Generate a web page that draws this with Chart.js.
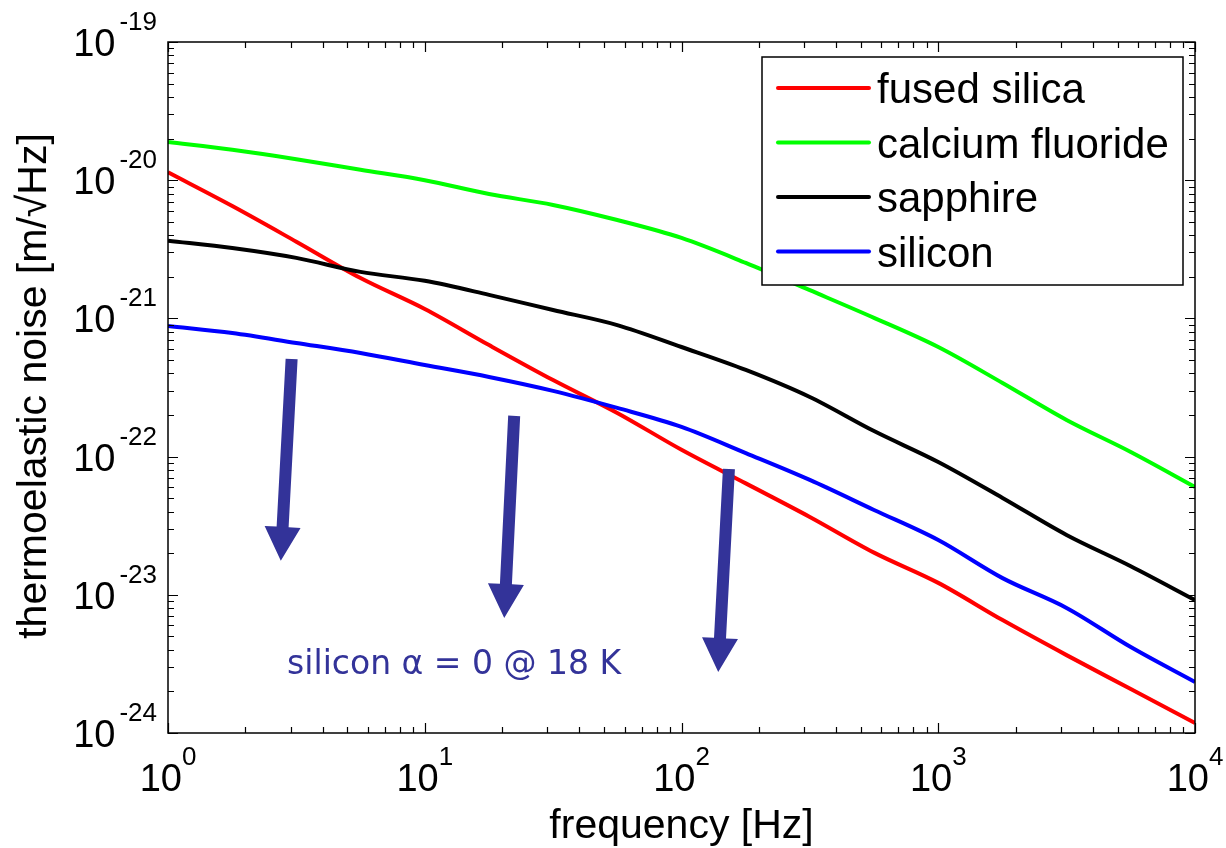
<!DOCTYPE html>
<html>
<head>
<meta charset="utf-8">
<script src="https://cdn.jsdelivr.net/npm/chart.js@4.4.1/dist/chart.umd.min.js"></script>
<style>
  html, body { margin: 0; padding: 0; background: #ffffff; }
  canvas { display: block; }
</style>
</head>
<body>
<canvas id="noiseChart" width="1226" height="848"></canvas>
<script>
// Frequency grid [Hz]
const frequencies = [1, 1.78, 3.16, 5.62, 10, 17.8, 31.6, 56.2, 100, 178, 316, 562, 1000, 1780, 3160, 5620, 10000];

// Thermoelastic noise amplitude spectral density [m/sqrt(Hz)]
const fusedSilica = [1.14e-20, 6.50e-21, 3.59e-21, 1.96e-21, 1.17e-21, 6.41e-22, 3.58e-22, 2.07e-22, 1.12e-22,
                     6.40e-23, 3.66e-23, 2.02e-23, 1.22e-23, 6.56e-24, 3.66e-24, 2.08e-24, 1.18e-24];
const calciumFluoride = [1.89e-20, 1.66e-20, 1.42e-20, 1.19e-20, 1.00e-20, 7.94e-21, 6.62e-21, 5.15e-21, 3.82e-21,
                         2.52e-21, 1.60e-21, 1.01e-21, 6.21e-22, 3.41e-22, 1.84e-22, 1.08e-22, 6.03e-23];
const sapphire = [3.65e-21, 3.23e-21, 2.74e-21, 2.17e-21, 1.87e-21, 1.48e-21, 1.15e-21, 8.95e-22, 6.21e-22,
                  4.24e-22, 2.70e-22, 1.53e-22, 9.14e-23, 5.02e-23, 2.71e-23, 1.61e-23, 9.16e-24];
const silicon = [8.81e-22, 7.83e-22, 6.64e-22, 5.62e-22, 4.60e-22, 3.77e-22, 2.99e-22, 2.25e-22, 1.64e-22,
                 1.06e-22, 6.78e-23, 4.11e-23, 2.49e-23, 1.32e-23, 8.04e-24, 4.19e-24, 2.34e-24];

const seriesNames = ['fused silica', 'calcium fluoride', 'sapphire', 'silicon'];
const seriesValues = [fusedSilica, calciumFluoride, sapphire, silicon];
const seriesColors = ['#ff0000', '#00ff00', '#000000', '#0000ff'];

// Decade tick exponents
const xTickExponents = [0, 1, 2, 3, 4];
const yTickExponents = [-19, -20, -21, -22, -23, -24];

// Annotation: arrows (tail -> tip, in data units) and note
const arrowTails = [[3.03, 5.08e-22], [22.3, 1.97e-22], [153, 8.13e-23]];
const arrowTips  = [[2.75, 1.76e-23], [20.4, 6.79e-24], [139, 2.76e-24]];
const noteText = 'silicon \u03b1 = 0 @ 18 K';
const noteAnchor = [2.91, 2.67e-24];

const xTitle = 'frequency [Hz]';
const yTitle = 'thermoelastic noise [m/\u221aHz]';

const FONT = '"Liberation Sans", Arial, Helvetica, sans-serif';
const NOTE_COLOR = '#333399';

const datasets = seriesNames.map((name, i) => ({
  label: name,
  data: frequencies.map((f, k) => ({ x: f, y: seriesValues[i][k] })),
  borderColor: seriesColors[i],
  backgroundColor: seriesColors[i],
  borderWidth: 4,
  pointRadius: 0,
  cubicInterpolationMode: 'monotone',
  fill: false,
  order: seriesNames.length - i
}));

// Box, inward ticks, decade labels, titles, legend and annotations
const decorations = {
  id: 'decorations',
  afterDatasetsDraw(chart) {
    const ctx = chart.ctx;
    const xs = chart.scales.x, ys = chart.scales.y;
    const a = chart.chartArea;
    ctx.save();

    // arrows
    ctx.fillStyle = NOTE_COLOR;
    arrowTails.forEach((t, i) => {
      const x0 = xs.getPixelForValue(t[0]), y0 = ys.getPixelForValue(t[1]);
      const x1 = xs.getPixelForValue(arrowTips[i][0]), y1 = ys.getPixelForValue(arrowTips[i][1]);
      const len = Math.hypot(x1 - x0, y1 - y0);
      const dx = (x1 - x0) / len, dy = (y1 - y0) / len;
      const nx = -dy, ny = dx;
      const headLen = 34, headHalf = 18, shaftHalf = 6;
      const bx = x1 - dx * headLen, by = y1 - dy * headLen;
      ctx.beginPath();
      ctx.moveTo(x0 + nx * shaftHalf, y0 + ny * shaftHalf);
      ctx.lineTo(bx + nx * shaftHalf, by + ny * shaftHalf);
      ctx.lineTo(bx + nx * headHalf, by + ny * headHalf);
      ctx.lineTo(x1, y1);
      ctx.lineTo(bx - nx * headHalf, by - ny * headHalf);
      ctx.lineTo(bx - nx * shaftHalf, by - ny * shaftHalf);
      ctx.lineTo(x0 - nx * shaftHalf, y0 - ny * shaftHalf);
      ctx.closePath();
      ctx.fill();
    });

    // note
    ctx.font = '33px "DejaVu Sans", Verdana, sans-serif';
    ctx.textAlign = 'left';
    ctx.textBaseline = 'alphabetic';
    ctx.fillText(noteText, xs.getPixelForValue(noteAnchor[0]), ys.getPixelForValue(noteAnchor[1]));

    // axes box
    ctx.strokeStyle = '#000000';
    ctx.lineWidth = 1.5;
    ctx.strokeRect(a.left, a.top, a.right - a.left, a.bottom - a.top);

    // inward ticks on all four sides
    ctx.lineWidth = 1.2;
    const major = 10, minor = 6;
    ctx.beginPath();
    const xLo = xTickExponents[0], xHi = xTickExponents[xTickExponents.length - 1];
    for (let e = xLo; e <= xHi; e++) {
      for (let m = 1; m <= 9; m++) {
        if (e === xHi && m > 1) break;
        const px = Math.round(xs.getPixelForValue(m * Math.pow(10, e))) + 0.5;
        const l = m === 1 ? major : minor;
        ctx.moveTo(px, a.bottom); ctx.lineTo(px, a.bottom - l);
        ctx.moveTo(px, a.top); ctx.lineTo(px, a.top + l);
      }
    }
    const yLo = yTickExponents[yTickExponents.length - 1], yHi = yTickExponents[0];
    for (let e = yLo; e <= yHi; e++) {
      for (let m = 1; m <= 9; m++) {
        if (e === yHi && m > 1) break;
        const py = Math.round(ys.getPixelForValue(m * Math.pow(10, e))) + 0.5;
        const l = m === 1 ? major : minor;
        ctx.moveTo(a.left, py); ctx.lineTo(a.left + l, py);
        ctx.moveTo(a.right, py); ctx.lineTo(a.right - l, py);
      }
    }
    ctx.stroke();

    // decade labels 10^n
    ctx.fillStyle = '#000000';
    const baseFont = '38px ' + FONT, expFont = '26px ' + FONT;
    ctx.textBaseline = 'alphabetic';
    ctx.textAlign = 'left';
    xTickExponents.forEach(e => {
      const px = xs.getPixelForValue(Math.pow(10, e));
      ctx.font = baseFont; const wb = ctx.measureText('10').width;
      ctx.font = expFont; const we = ctx.measureText(String(e)).width;
      const x0 = px - (wb + we) / 2;
      ctx.font = baseFont; ctx.fillText('10', x0, 791);
      ctx.font = expFont; ctx.fillText(String(e), x0 + wb, 765);
    });
    yTickExponents.forEach(e => {
      const py = ys.getPixelForValue(Math.pow(10, e));
      ctx.font = baseFont; const wb = ctx.measureText('10').width;
      ctx.font = expFont; const we = ctx.measureText(String(e)).width;
      const gap = 4;
      const x0 = a.left - 11 - wb - gap - we;
      ctx.font = baseFont; ctx.fillText('10', x0, py + 14);
      ctx.font = expFont; ctx.fillText(String(e), x0 + wb + gap, py - 12);
    });

    // axis titles
    ctx.font = '41px ' + FONT;
    ctx.textAlign = 'center';
    ctx.fillText(xTitle, (a.left + a.right) / 2, 838);
    ctx.save();
    ctx.translate(46, 386);
    ctx.rotate(-Math.PI / 2);
    ctx.fillText(yTitle, 0, 0);
    ctx.restore();

    // legend
    const lg = { left: 762, top: 57, right: 1183, bottom: 285 };
    ctx.fillStyle = '#ffffff';
    ctx.fillRect(lg.left, lg.top, lg.right - lg.left, lg.bottom - lg.top);
    ctx.strokeStyle = '#000000';
    ctx.lineWidth = 1.5;
    ctx.strokeRect(lg.left, lg.top, lg.right - lg.left, lg.bottom - lg.top);
    ctx.font = '42px ' + FONT;
    ctx.textAlign = 'left';
    ctx.textBaseline = 'alphabetic';
    chart.data.datasets.forEach((ds, i) => {
      const ry = 88 + i * 54.5;
      ctx.strokeStyle = ds.borderColor;
      ctx.lineWidth = 4;
      ctx.lineCap = 'round';
      ctx.beginPath();
      ctx.moveTo(778, ry); ctx.lineTo(869, ry);
      ctx.stroke();
      ctx.fillStyle = '#000000';
      ctx.fillText(ds.label, 877, ry + 15);
    });

    ctx.restore();
  }
};

new Chart(document.getElementById('noiseChart'), {
  type: 'line',
  data: { datasets },
  options: {
    responsive: false,
    animation: false,
    devicePixelRatio: 1,
    layout: { padding: { left: 168, top: 42, right: 31, bottom: 115 } },
    plugins: { legend: { display: false }, tooltip: { enabled: false }, title: { display: false } },
    scales: {
      x: { type: 'logarithmic', min: 1, max: 10000, display: false },
      y: { type: 'logarithmic', min: 1e-24, max: 1e-19, display: false }
    }
  },
  plugins: [decorations]
});
</script>
</body>
</html>
